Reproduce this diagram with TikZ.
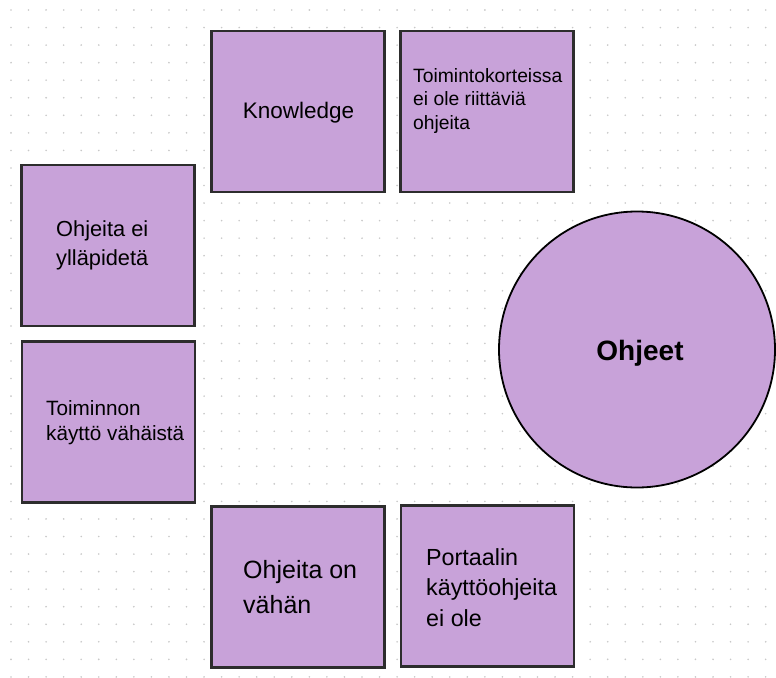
\documentclass[tikz,border=0pt]{standalone}
\usepackage{fontspec}
\setmainfont{Liberation Sans}
\definecolor{cardfill}{RGB}{200,162,217}
\definecolor{cardline}{RGB}{45,45,45}
\definecolor{griddot}{RGB}{200,200,200}
\tikzset{
  card/.style={draw=cardline, line width=2.6pt, fill=cardfill, rectangle,
    inner sep=0pt, minimum width=173pt, minimum height=161pt},
  hub/.style={draw=black, line width=1.8pt, fill=cardfill, circle,
    inner sep=0pt, minimum size=276pt},
  txt/.style={inner sep=0pt, align=left, anchor=north west, text=black},
  fs/.style 2 args={font=\fontsize{#1}{#2}\selectfont},
}
\begin{document}
\begin{tikzpicture}[x=1pt, y=-1pt]
  \useasboundingbox (0,0) rectangle (776,677);
  \clip (0,0) rectangle (776,677);
  \fill[white] (0,0) rectangle (776,677);
  % dotted background grid
  \foreach \i in {0,...,43}{
    \foreach \j in {0,...,38}{
      \fill[griddot] ({11+17.55*\i},{10+17.55*\j}) circle (0.9pt);
    }
  }
  % cards
  \node[card] (know) at (298,111.5) {};
  \node[card] (kort) at (487,111.5) {};
  \node[card] (yllap) at (108,245.5) {};
  \node[card] (kaytto) at (108.5,422) {};
  \node[card] (vahan) at (298,587) {};
  \node[card] (portaali) at (487.5,586) {};
  \node[hub] (ohjeet) at (637,349.5) {};
  % card texts
  \node[inner sep=0pt, anchor=base, fs={22.5}{27}] (know-t) at (298.5,118) {Knowledge};
  \node[txt, fs={19.3}{23.5}] (kort-t) at (413,68) {Toimintokorteissa\\ei ole riittäviä\\ohjeita};
  \node[txt, fs={21.8}{29}] (yllap-t) at (56,221) {Ohjeita ei\\ylläpidetä};
  \node[txt, fs={20.7}{25.5}] (kaytto-t) at (46,400) {Toiminnon\\käyttö vähäistä};
  \node[txt, fs={25}{35}] (vahan-t) at (243,560) {Ohjeita on\\vähän};
  \node[txt, fs={23.3}{30.5}] (portaali-t) at (426,548) {Portaalin\\käyttöohjeita\\ei ole};
  \node[inner sep=0pt, anchor=base, font=\fontsize{28}{32}\selectfont\bfseries] (ohjeet-t) at (640,360) {Ohjeet};
\end{tikzpicture}
\end{document}
